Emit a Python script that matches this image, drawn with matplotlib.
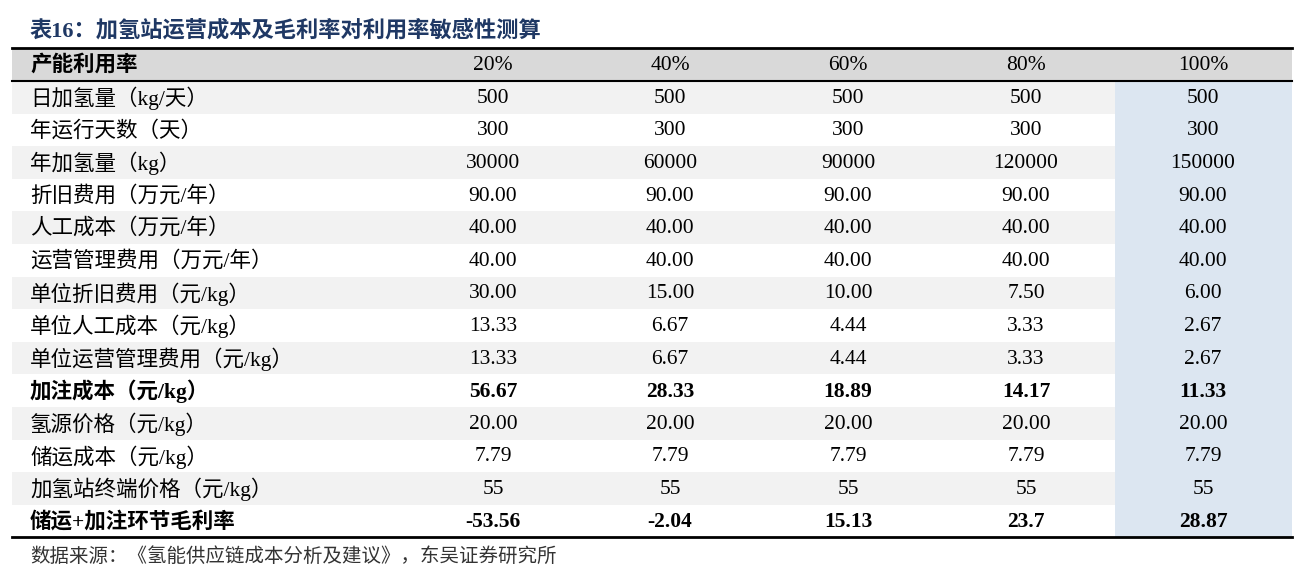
import matplotlib.pyplot as plt
from matplotlib.patches import Rectangle

title = "表16：加氢站运营成本及毛利率对利用率敏感性测算"
header = ["产能利用率", "20%", "40%", "60%", "80%", "100%"]
row_labels = ["日加氢量（kg/天）", "年运行天数（天）", "年加氢量（kg）", "折旧费用（万元/年）",
              "人工成本（万元/年）", "运营管理费用（万元/年）", "单位折旧费用（元/kg）",
              "单位人工成本（元/kg）", "单位运营管理费用（元/kg）", "加注成本（元/kg）",
              "氢源价格（元/kg）", "储运成本（元/kg）", "加氢站终端价格（元/kg）", "储运+加注环节毛利率"]
values = [
    ["500", "500", "500", "500", "500"],
    ["300", "300", "300", "300", "300"],
    ["30000", "60000", "90000", "120000", "150000"],
    ["90.00", "90.00", "90.00", "90.00", "90.00"],
    ["40.00", "40.00", "40.00", "40.00", "40.00"],
    ["40.00", "40.00", "40.00", "40.00", "40.00"],
    ["30.00", "15.00", "10.00", "7.50", "6.00"],
    ["13.33", "6.67", "4.44", "3.33", "2.67"],
    ["13.33", "6.67", "4.44", "3.33", "2.67"],
    ["56.67", "28.33", "18.89", "14.17", "11.33"],
    ["20.00", "20.00", "20.00", "20.00", "20.00"],
    ["7.79", "7.79", "7.79", "7.79", "7.79"],
    ["55", "55", "55", "55", "55"],
    ["-53.56", "-2.04", "15.13", "23.7", "28.87"],
]
bold_rows = [9, 13]
source = "数据来源：《氢能供应链成本分析及建议》，东吴证券研究所"

fonts = ["Liberation Serif", "Noto Sans CJK SC"]
fig = plt.figure(figsize=(13.1, 5.8), dpi=100)
ax = fig.add_axes([0, 0, 1, 1])
ax.set_xlim(0, 1310)
ax.set_ylim(580, 0)
ax.axis("off")

left, right = 12, 1292
col_x = [493, 670, 848, 1026, 1203]
blue_left = 1115
top = 48
hh = 33
rh = 32.6
fs = 15.5

ax.text(30, 31, title, fontsize=16, fontweight="bold", color="#1F3864", family=fonts, va="center")

ax.add_patch(Rectangle((left, top), right - left, hh, color="#D9D9D9", lw=0))
ax.plot([left, right], [top, top], color="black", lw=2)
ax.plot([left, right], [top + hh, top + hh], color="black", lw=1.5)
ax.text(30, top + hh / 2 + 1, header[0], fontsize=fs, fontweight="bold", family=fonts, va="center")
for x, h in zip(col_x, header[1:]):
    ax.text(x, top + hh / 2 + 1, h, fontsize=fs, family=fonts, va="center", ha="center")

y0 = top + hh
for i, (lab, vals) in enumerate(zip(row_labels, values)):
    y = y0 + i * rh
    if i % 2 == 0:
        ax.add_patch(Rectangle((left, y), right - left, rh, color="#F2F2F2", lw=0))
    ax.add_patch(Rectangle((blue_left, y), right - blue_left, rh, color="#DCE6F1", lw=0))
    w = "bold" if i in bold_rows else "normal"
    ax.text(30, y + rh / 2 + 1, lab, fontsize=fs, fontweight=w, family=fonts, va="center")
    for x, v in zip(col_x, vals):
        ax.text(x, y + rh / 2 + 1, v, fontsize=fs, fontweight=w, family=fonts, va="center", ha="center")

yb = y0 + len(row_labels) * rh
ax.plot([left, right], [yb, yb], color="black", lw=2)
ax.text(30, yb + 19, source, fontsize=14, family=fonts, va="center", color="#333333")

fig.savefig("out.png", dpi=100)
